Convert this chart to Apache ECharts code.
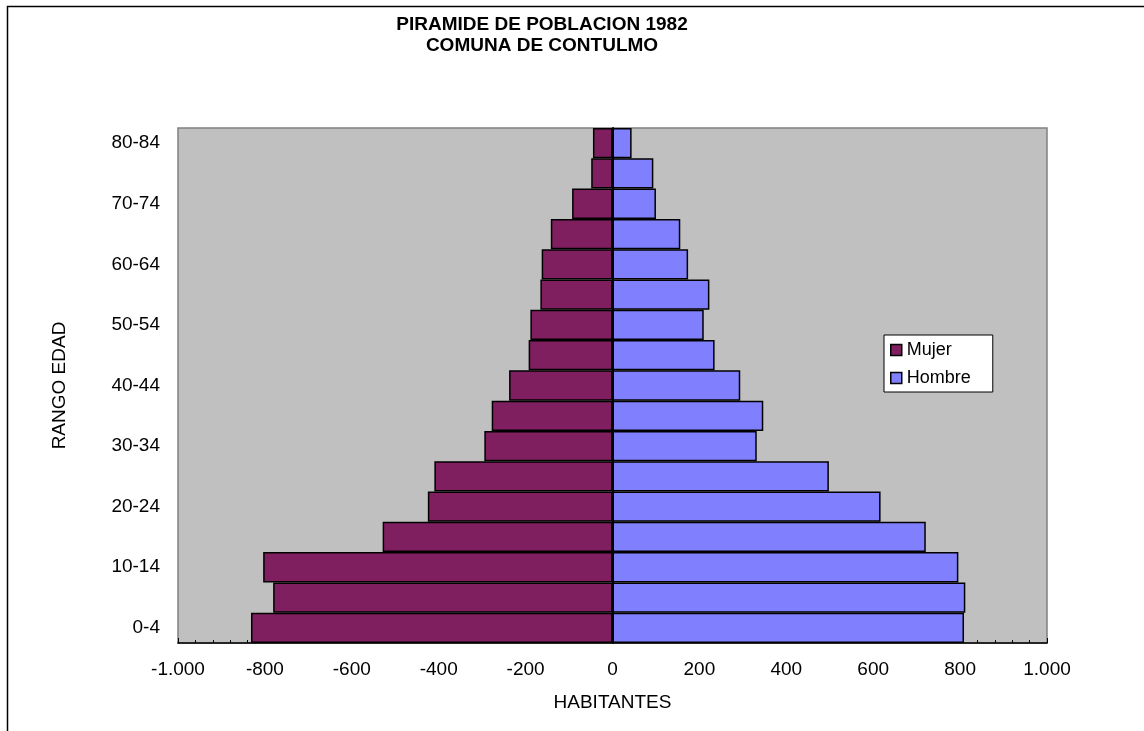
<!DOCTYPE html>
<html>
<head>
<meta charset="utf-8">
<title>Piramide de poblacion 1982</title>
<style>
    html, body { margin: 0; padding: 0; background: #fff; }
    #piramide { width: 1144px; height: 731px; }
</style>
<script type="text/javascript" src="https://cdn.jsdelivr.net/npm/echarts@6/dist/echarts.min.js"></script>
</head>
<body>
<div id="piramide"></div>
<script>
    // rangos de edad, de abajo hacia arriba
    var categorias = ['0-4', '5-9', '10-14', '15-19', '20-24', '25-29', '30-34', '35-39', '40-44',
        '45-49', '50-54', '55-59', '60-64', '65-69', '70-74', '75-79', '80-84'];
    var mujer = [-832, -781, -804, -529, -425, -410, -295, -278, -238, -193, -189, -166, -163, -142, -93, -49, -45];
    var hombre = [809, 812, 796, 721, 617, 498, 332, 347, 294, 235, 210, 223, 174, 156, 100, 94, 44];
    var ejeX = {min: -1000, max: 1000, interval: 200};

    function miles(v) {
        return String(v).replace(/\B(?=(\d{3})+(?!\d))/g, '.');
    }

    function piramide() {
        var dom = document.getElementById("piramide");
        var myChart = echarts.init(dom);
        var fuente = 'Liberation Sans';
        var option = {
            animation: false,
            textStyle: {fontFamily: fuente},
            title: {
                text: 'PIRAMIDE DE POBLACION 1982\nCOMUNA DE CONTULMO',
                left: 537,
                textAlign: 'center',
                top: 9,
                textStyle: {
                    fontFamily: fuente,
                    fontSize: 19,
                    fontWeight: 'bold',
                    color: '#000',
                    lineHeight: 21
                }
            },
            graphic: [{
                type: 'rect',
                left: 5,
                top: 4,
                z: -10,
                shape: {width: 1200, height: 800},
                style: {fill: 'none', stroke: '#000', lineWidth: 1.5}
            }],
            legend: {
                orient: 'vertical',
                left: 884,
                top: 335,
                backgroundColor: '#fff',
                borderColor: '#000',
                borderWidth: 1,
                padding: [6, 22, 5, 6],
                itemGap: 10,
                itemWidth: 11,
                itemHeight: 11,
                icon: 'rect',
                itemStyle: {borderColor: '#000', borderWidth: 1.5},
                textStyle: {fontFamily: fuente, fontSize: 18, color: '#000'},
                data: ['Mujer', 'Hombre']
            },
            grid: {
                left: 178,
                right: 97,
                top: 128,
                bottom: 88,
                show: true,
                backgroundColor: '#C0C0C0',
                borderColor: '#808080',
                borderWidth: 1.5
            },
            xAxis: {
                type: 'value',
                min: ejeX.min,
                max: ejeX.max,
                interval: ejeX.interval,
                name: 'HABITANTES',
                nameLocation: 'middle',
                nameGap: 50,
                nameTextStyle: {fontFamily: fuente, fontSize: 19, color: '#000'},
                axisLine: {show: true, onZero: false, lineStyle: {color: '#000', width: 1.5}},
                axisTick: {show: true, inside: true, length: 5, lineStyle: {color: '#000'}},
                minorTick: {show: true, splitNumber: 5, length: 3, lineStyle: {color: '#000'}},
                splitLine: {show: false},
                axisLabel: {
                    margin: 17,
                    fontFamily: fuente,
                    fontSize: 19,
                    color: '#000',
                    formatter: miles
                }
            },
            yAxis: [
                {
                    type: 'category',
                    data: categorias,
                    name: 'RANGO EDAD',
                    nameLocation: 'middle',
                    nameGap: 109,
                    nameTextStyle: {fontFamily: fuente, fontSize: 19, color: '#000'},
                    axisLine: {show: false, onZero: false},
                    axisTick: {show: false},
                    axisLabel: {interval: 1, margin: 18, fontFamily: fuente, fontSize: 19, color: '#000'}
                },
                {
                    // eje sobre el cero, solo marcas
                    type: 'category',
                    data: categorias,
                    position: 'left',
                    axisLine: {show: true, onZero: true, lineStyle: {color: '#000', width: 2}},
                    axisTick: {show: true, alignWithLabel: true, length: 3, lineStyle: {color: '#000'}},
                    axisLabel: {show: false}
                }
            ],
            series: [
                {
                    name: 'Mujer',
                    type: 'bar',
                    barGap: '-100%',
                    barCategoryGap: '0%',
                    itemStyle: {color: '#7F1F5F', borderColor: '#000', borderWidth: 1.5},
                    data: mujer
                },
                {
                    name: 'Hombre',
                    type: 'bar',
                    barGap: '-100%',
                    barCategoryGap: '0%',
                    itemStyle: {color: '#8080FF', borderColor: '#000', borderWidth: 1.5},
                    data: hombre
                }
            ]
        };
        if (option && typeof option === "object") {
            myChart.setOption(option, true);
        }
    }

    piramide();
</script>
</body>
</html>
